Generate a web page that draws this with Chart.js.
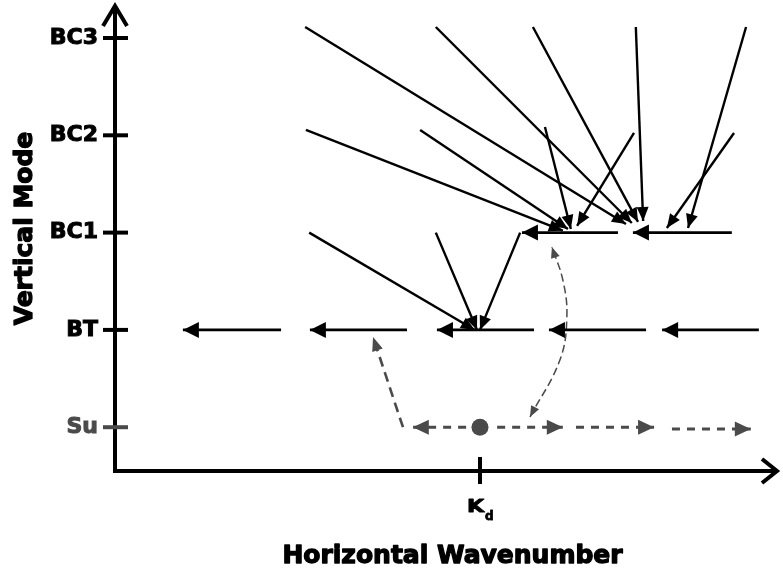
<!DOCTYPE html>
<html>
<head>
<meta charset="utf-8">
<script src="https://cdn.jsdelivr.net/npm/chart.js@4.4.1/dist/chart.umd.min.js"></script>
<style>
  html, body { margin: 0; padding: 0; background: #fff; }
  #wrap { width: 783px; height: 572px; }
</style>
</head>
<body>
<div id="wrap"><canvas id="c" width="783" height="572"></canvas></div>
<script>
// Vertical modes (y = mode index) against horizontal wavenumber in units of Kd (x)
const modeLabels = ['Su', 'BT', 'BC1', 'BC2', 'BC3'];
const modeLevels = [0, 1, 2, 3, 4];
const kdValue = 1;
const kdLabel = ['K', 'd'];
const xTitle = 'Horizontal Wavenumber';
const yTitle = 'Vertical Mode';

// Westward barotropic segments: tail x -> tip x (y = BT)
const btTails = [0.455, 0.800, 1.148, 1.455, 1.764];
const btTips  = [0.186, 0.534, 0.882, 1.189, 1.499];
// Westward first-baroclinic segments (y = BC1)
const bc1Tails = [1.378, 1.690];
const bc1Tips  = [1.115, 1.419];

// Transfers from BC1 into BT near Kd
const toBtFromX = [0.532, 0.879, 1.110];
const toBtFromY = [2, 2, 2];
const toBtTipX  = [0.986, 0.992, 1.000];
const toBtTipY  = [1, 1, 1];

// Transfers from BC2 / BC3 into BC1
const toBc1FromX = [0.523, 0.836, 1.178, 1.422, 0.521, 0.879, 1.145, 1.427, 1.696, 1.729];
const toBc1FromY = [3.055, 3.055, 3.086, 3.024, 4.113, 4.113, 4.113, 4.113, 3.024, 4.113];
const toBc1TipX  = [1.227, 1.241, 1.249, 1.266, 1.400, 1.416, 1.433, 1.447, 1.512, 1.570];
const toBc1TipY  = [2.020, 2.037, 2.037, 2.068, 2.089, 2.099, 2.110, 2.119, 2.047, 2.047];

// Surface mode: source at Kd and dashed spreading segments
const suTails = [0.962, 1.047, 1.263, 1.526];
const suTips  = [0.816, 1.227, 1.477, 1.742];
const suY     = [0, 0, 0, -0.018];
const suSource = { x: 1.0, y: 0 };

// Surface -> BT coupling
const suToBtX = [0.789, 0.707];
const suToBtY = [0, 0.927];
// Surface <-> BC1 exchange (curved, two-way)
const suBc1X = [1.137, 1.219, 1.238, 1.227, 1.197];
const suBc1Y = [0.105, 0.691, 1.133, 1.513, 1.852];

const BLACK = '#000000';
const GREY = '#4a4a4a';
const FONT = 'DejaVu Sans';

const datasets = [];
datasets.push({
  data: [suSource], showLine: false, pointRadius: 8.5, pointHoverRadius: 8.5,
  backgroundColor: GREY, borderWidth: 0
});
function addArrow(points, style) {
  datasets.push(Object.assign({
    data: points, showLine: true, pointRadius: 0, pointHoverRadius: 0,
    fill: false, borderCapStyle: 'butt', tension: 0
  }, style));
}
const solidHoriz = { borderColor: BLACK, borderWidth: 2.6, head: { end: true, len: 16, half: 8 } };
const solidSlant = { borderColor: BLACK, borderWidth: 2.4, head: { end: true, len: 14, half: 6 } };

btTails.forEach((t, i) => addArrow([{ x: t, y: 1 }, { x: btTips[i], y: 1 }], solidHoriz));
bc1Tails.forEach((t, i) => addArrow([{ x: t, y: 2 }, { x: bc1Tips[i], y: 2 }], solidHoriz));
toBtFromX.forEach((fx, i) => addArrow([{ x: fx, y: toBtFromY[i] }, { x: toBtTipX[i], y: toBtTipY[i] }], solidSlant));
toBc1FromX.forEach((fx, i) => addArrow([{ x: fx, y: toBc1FromY[i] }, { x: toBc1TipX[i], y: toBc1TipY[i] }], solidSlant));

suTails.forEach((t, i) => addArrow([{ x: t, y: suY[i] }, { x: suTips[i], y: suY[i] }], {
  borderColor: GREY, borderWidth: 3, borderDash: [8, 7],
  head: { end: true, len: 16, half: 7.5, color: GREY }
}));
addArrow(suToBtX.map((x, i) => ({ x, y: suToBtY[i] })), {
  borderColor: GREY, borderWidth: 2.6, borderDash: [10, 6],
  head: { end: true, len: 14, half: 5.5, color: GREY }
});
addArrow(suBc1X.map((x, i) => ({ x, y: suBc1Y[i] })), {
  borderColor: GREY, borderWidth: 1.5, borderDash: [8, 4], tension: 0.4,
  head: { end: true, start: true, len: 11, half: 4.5, color: GREY }
});

function drawHead(ctx, tip, from, len, half) {
  const dx = tip.x - from.x, dy = tip.y - from.y;
  const d = Math.hypot(dx, dy) || 1;
  const ux = dx / d, uy = dy / d;
  const bx = tip.x - ux * len, by = tip.y - uy * len;
  ctx.beginPath();
  ctx.moveTo(tip.x, tip.y);
  ctx.lineTo(bx - uy * half, by + ux * half);
  ctx.lineTo(bx + uy * half, by - ux * half);
  ctx.closePath();
  ctx.fill();
}

const arrowHeads = {
  id: 'arrowHeads',
  afterDatasetsDraw(chart) {
    const ctx = chart.ctx;
    chart.data.datasets.forEach((ds, i) => {
      if (!ds.head) return;
      const pts = chart.getDatasetMeta(i).data;
      const n = pts.length;
      const h = ds.head;
      ctx.save();
      ctx.fillStyle = h.color || ds.borderColor;
      const curved = ds.tension > 0;
      if (h.end) {
        const p = pts[n - 1];
        const from = curved && p.cp1x !== undefined ? { x: p.cp1x, y: p.cp1y } : pts[n - 2];
        drawHead(ctx, p, from, h.len, h.half);
      }
      if (h.start) {
        const p = pts[0];
        const from = curved && p.cp2x !== undefined ? { x: p.cp2x, y: p.cp2y } : pts[1];
        drawHead(ctx, p, from, h.len, h.half);
      }
      ctx.restore();
    });
  }
};

function heavyText(ctx, text, x, y, stroke) {
  ctx.fillText(text, x, y);
  ctx.lineWidth = stroke;
  ctx.strokeText(text, x, y);
}

const axesDecor = {
  id: 'axesDecor',
  beforeDatasetsDraw(chart) {
    const { ctx, chartArea: a, scales: { x, y } } = chart;
    const x0 = x.getPixelForValue(0);
    const y0 = y.getPixelForValue(y.min);
    ctx.save();
    ctx.strokeStyle = BLACK;
    ctx.lineWidth = 4;
    ctx.lineCap = 'butt';
    ctx.lineJoin = 'miter';
    // axis lines
    ctx.beginPath();
    ctx.moveTo(x0, y0 + 2);
    ctx.lineTo(x0, a.top + 5);
    ctx.moveTo(x0 - 2, y0);
    ctx.lineTo(a.right - 3, y0);
    ctx.stroke();
    // arrow chevrons
    ctx.beginPath();
    ctx.moveTo(x0 - 12, a.top + 24);
    ctx.lineTo(x0, a.top + 4);
    ctx.lineTo(x0 + 12, a.top + 24);
    ctx.stroke();
    ctx.beginPath();
    ctx.moveTo(a.right - 18, y0 - 12);
    ctx.lineTo(a.right - 3, y0);
    ctx.lineTo(a.right - 18, y0 + 12);
    ctx.stroke();
    // mode tick marks
    modeLevels.forEach(v => {
      const py = y.getPixelForValue(v);
      ctx.strokeStyle = v === 0 ? GREY : BLACK;
      ctx.beginPath();
      ctx.moveTo(x0 - 12, py);
      ctx.lineTo(x0 + 13, py);
      ctx.stroke();
    });
    // Kd tick
    const kx = x.getPixelForValue(kdValue);
    ctx.strokeStyle = BLACK;
    ctx.beginPath();
    ctx.moveTo(kx, y0 - 14);
    ctx.lineTo(kx, y0 + 13);
    ctx.stroke();
    ctx.restore();
  },
  afterDraw(chart) {
    const { ctx, chartArea: a, scales: { x, y } } = chart;
    const kx = x.getPixelForValue(kdValue);
    const y0 = y.getPixelForValue(y.min);
    ctx.save();
    ctx.fillStyle = BLACK;
    ctx.strokeStyle = BLACK;
    ctx.lineJoin = 'round';
    ctx.textBaseline = 'alphabetic';
    // Kd label with subscript
    ctx.font = 'bold 17px "' + FONT + '"';
    ctx.textAlign = 'left';
    ctx.save();
    ctx.translate(kx - 13, y0 + 41);
    ctx.scale(1.3, 1);
    heavyText(ctx, kdLabel[0], 0, 0, 0.9);
    const kw = ctx.measureText(kdLabel[0]).width * 1.3;
    ctx.restore();
    ctx.font = 'bold 12px "' + FONT + '"';
    heavyText(ctx, kdLabel[1], kx - 12 + kw, y0 + 49, 0.8);
    // axis titles
    ctx.font = 'bold 25px "' + FONT + '"';
    ctx.textAlign = 'center';
    heavyText(ctx, xTitle, 452.5, 563, 1.3);
    ctx.save();
    ctx.translate(32, 228.5);
    ctx.rotate(-Math.PI / 2);
    heavyText(ctx, yTitle, 0, 0, 1.3);
    ctx.restore();
    ctx.restore();
  }
};

new Chart(document.getElementById('c'), {
  type: 'scatter',
  data: { datasets },
  options: {
    responsive: false,
    animation: false,
    devicePixelRatio: 1,
    events: [],
    layout: { autoPadding: false, padding: { left: 0, right: 3, top: 2, bottom: 101 } },
    plugins: { legend: { display: false }, tooltip: { enabled: false } },
    scales: {
      x: { type: 'linear', min: 0, max: 1.822, display: false },
      y: {
        type: 'linear', position: 'left', min: -0.45, max: 4.37,
        afterBuildTicks: s => { s.ticks = modeLevels.map(v => ({ value: v })); },
        afterFit: s => { s.width = 115; s.paddingTop = 0; s.paddingBottom = 0; },
        grid: { display: false, drawTicks: false },
        border: { display: false },
        ticks: {
          padding: 17,
          font: { family: FONT, weight: 'bold', size: 22 },
          color: c => (c.tick && c.tick.value === 0 ? GREY : BLACK),
          textStrokeColor: c => (c.tick && c.tick.value === 0 ? GREY : BLACK),
          textStrokeWidth: 1,
          callback: v => modeLabels[modeLevels.indexOf(v)]
        }
      }
    }
  },
  plugins: [axesDecor, arrowHeads]
});
</script>
</body>
</html>
